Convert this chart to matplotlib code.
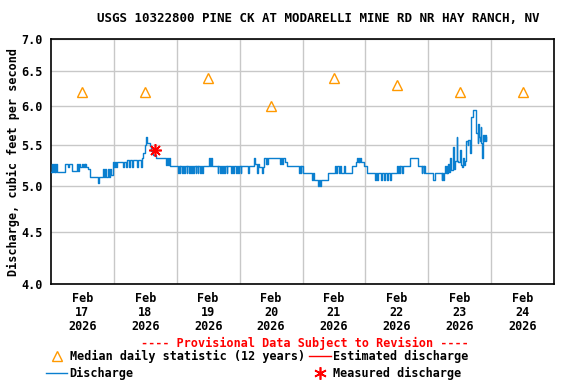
import numpy as np
import matplotlib
matplotlib.use("Agg")
import matplotlib.pyplot as plt
from matplotlib.lines import Line2D

# hours since Feb 17 2026 00:00, value held until next point (15-min gage data)
q_hours = [
    0.0, 0.3, 0.5, 0.9, 1.2, 1.4, 1.7, 1.9, 2.2, 5.3, 6.5, 6.8, 7.9, 9.8, 10.2,
    10.5, 11.1, 11.8, 12.1, 12.5, 12.8, 13.1, 13.5, 14.3, 14.9, 18.0, 18.3, 20.0,
    20.3, 20.8, 21.1, 21.9, 22.2, 22.6, 23.0, 23.8, 24.2, 24.5, 24.8, 25.2, 27.4,
    27.7, 28.6, 28.9, 29.8, 30.1, 31.1, 31.4, 33.0, 33.3, 34.3, 34.6, 35.2, 35.7,
    36.1, 36.6, 37.6, 38.3, 39.0, 40.2, 44.0, 44.3, 44.6, 44.9, 45.3, 48.4, 48.7,
    49.1, 49.4, 50.0, 50.3, 50.9, 51.2, 51.8, 52.1, 52.6, 52.9, 53.5, 53.8, 54.3,
    54.6, 55.2, 55.5, 56.0, 56.3, 56.9, 57.2, 57.8, 58.1, 60.4, 60.7, 61.0, 61.3,
    63.6, 63.9, 64.4, 64.7, 65.3, 65.6, 66.1, 66.4, 67.0, 67.3, 68.8, 69.1, 69.6,
    69.9, 70.6, 70.9, 71.5, 71.8, 72.4, 72.7, 75.1, 75.4, 77.6, 77.9, 78.7, 79.1,
    79.4, 80.6, 81.0, 81.3, 81.9, 82.3, 82.6, 83.0, 87.6, 87.9, 88.3, 88.6, 89.5,
    90.2, 94.6, 94.9, 95.3, 95.6, 96.3, 99.5, 99.9, 100.2, 102.0, 102.3, 102.6,
    103.0, 105.8, 108.4, 108.8, 109.2, 109.8, 110.3, 110.6, 111.9, 112.2, 114.9,
    116.5, 116.8, 117.1, 117.4, 117.7, 118.0, 118.3, 119.3, 120.5, 123.6, 124.0,
    124.6, 125.0, 125.8, 126.2, 127.0, 127.4, 128.4, 128.7, 129.3, 129.7, 130.0,
    131.9, 132.3, 132.7, 133.1, 133.4, 133.8, 134.5, 137.0, 140.2, 141.5, 141.8,
    142.2, 142.5, 142.7, 145.9, 146.5, 149.1, 149.4, 149.8, 150.1, 150.4, 150.7,
    151.0, 151.3, 151.6, 151.9, 152.3, 152.6, 153.5, 153.8, 154.2, 154.8, 155.1,
    155.4, 156.1, 156.4, 156.7, 157.3, 157.6, 158.0, 158.6, 159.0, 159.3, 159.9,
    160.2, 160.5, 161.0, 162.2, 162.4, 162.8, 163.1, 163.4, 163.7, 164.0, 164.3,
    164.6, 165.0, 165.3, 165.6, 165.9, 166.2,
]
q_values = [
    5.17, 5.26, 5.17, 5.26, 5.17, 5.26, 5.17, 5.26, 5.17, 5.26, 5.22, 5.26, 5.18,
    5.26, 5.18, 5.26, 5.22, 5.26, 5.22, 5.26, 5.22, 5.26, 5.22, 5.20, 5.11, 5.04,
    5.11, 5.20, 5.11, 5.20, 5.11, 5.20, 5.11, 5.20, 5.13, 5.29, 5.22, 5.29, 5.22,
    5.29, 5.22, 5.29, 5.22, 5.31, 5.22, 5.31, 5.22, 5.31, 5.22, 5.31, 5.22, 5.33,
    5.39, 5.50, 5.59, 5.52, 5.48, 5.42, 5.37, 5.33, 5.25, 5.33, 5.25, 5.33, 5.24,
    5.16, 5.24, 5.16, 5.24, 5.16, 5.24, 5.16, 5.24, 5.16, 5.24, 5.16, 5.24, 5.16,
    5.24, 5.16, 5.24, 5.16, 5.24, 5.16, 5.24, 5.16, 5.24, 5.16, 5.24, 5.33, 5.24,
    5.33, 5.24, 5.16, 5.24, 5.16, 5.24, 5.16, 5.24, 5.16, 5.24, 5.16, 5.24, 5.16,
    5.24, 5.16, 5.24, 5.16, 5.24, 5.16, 5.24, 5.16, 5.24, 5.16, 5.24, 5.33, 5.26,
    5.15, 5.26, 5.23, 5.15, 5.23, 5.33, 5.26, 5.33, 5.26, 5.33, 5.26, 5.33, 5.26,
    5.33, 5.29, 5.24, 5.15, 5.24, 5.15, 5.24, 5.15, 5.07, 5.15, 5.07, 5.00, 5.07,
    5.00, 5.07, 5.15, 5.24, 5.15, 5.24, 5.15, 5.24, 5.15, 5.24, 5.15, 5.24, 5.28,
    5.33, 5.28, 5.33, 5.28, 5.33, 5.28, 5.24, 5.15, 5.07, 5.15, 5.07, 5.15, 5.07,
    5.15, 5.07, 5.15, 5.07, 5.15, 5.07, 5.15, 5.15, 5.24, 5.15, 5.24, 5.15, 5.24,
    5.15, 5.24, 5.33, 5.24, 5.16, 5.24, 5.16, 5.24, 5.16, 5.07, 5.16, 5.07, 5.16,
    5.07, 5.16, 5.24, 5.16, 5.24, 5.16, 5.26, 5.17, 5.33, 5.19, 5.47, 5.20, 5.30,
    5.60, 5.30, 5.29, 5.43, 5.25, 5.23, 5.33, 5.25, 5.30, 5.54, 5.50, 5.56, 5.40,
    5.60, 5.86, 5.95, 5.90, 5.65, 5.52, 5.77, 5.60, 5.55, 5.72, 5.52, 5.33, 5.62,
    5.55, 5.62, 5.55, 5.60,
]

# median daily statistic (12 years), plotted at noon of each day
median_hours = [12, 36, 60, 84, 108, 132, 156, 180]
median_values = [6.2, 6.2, 6.4, 6.0, 6.4, 6.3, 6.2, 6.2]

# field measurement
meas_hours = [39.7]
meas_values = [5.43]

day_labels = ["Feb\n17\n2026", "Feb\n18\n2026", "Feb\n19\n2026", "Feb\n20\n2026",
              "Feb\n21\n2026", "Feb\n22\n2026", "Feb\n23\n2026", "Feb\n24\n2026"]
y_ticks = [4.0, 4.5, 5.0, 5.5, 6.0, 6.5, 7.0]

blue = "#0a7fcf"
orange = "#ff9900"
red = "#ff0000"
mono = "DejaVu Sans Mono"

fig = plt.figure(figsize=(5.76, 3.84), dpi=100)
ax = fig.add_axes([51 / 576, 100 / 384, 503 / 576, 245 / 384])

ax.step(q_hours, q_values, where="post", color=blue, lw=1.0, zorder=3)
ax.plot(median_hours, median_values, ls="none", marker="^", ms=7, mfc="none",
        mec=orange, mew=1.0, zorder=4)
ax.plot(meas_hours, meas_values, ls="none", marker=(8, 2, 0), ms=9, mec=red,
        mew=1.2, zorder=5)

ax.set_yscale("log")
ax.set_ylim(4.0, 7.0)
ax.set_xlim(0, 192)
ax.set_yticks(y_ticks)
ax.set_yticklabels(["%.1f" % v for v in y_ticks])
ax.yaxis.set_minor_locator(matplotlib.ticker.NullLocator())
ax.set_xticks(median_hours)
ax.set_xticklabels(day_labels, linespacing=1.1)
ax.set_xticks(np.arange(24, 192, 24), minor=True)
ax.grid(True, which="minor", axis="x", color="#c8c8c8", lw=1.0)
ax.grid(True, which="major", axis="y", color="#c8c8c8", lw=1.0)
ax.tick_params(which="both", length=0, labelsize=8.5, pad=6)
for lab in ax.get_xticklabels() + ax.get_yticklabels():
    lab.set_fontfamily(mono)
    lab.set_fontweight("bold")
for s in ax.spines.values():
    s.set_linewidth(1.2)

ax.set_ylabel("Discharge, cubic feet per second", family=mono, weight="bold",
              fontsize=8.5, labelpad=1)
fig.text(318 / 576, 1 - 19 / 384, "USGS 10322800 PINE CK AT MODARELLI MINE RD NR HAY RANCH, NV",
         ha="center", va="center", family=mono, weight="bold", fontsize=9)
fig.text(305 / 576, 1 - 343 / 384, "---- Provisional Data Subject to Revision ----",
         ha="center", va="center", family=mono, weight="bold", fontsize=8.5, color=red)

handles = [
    Line2D([], [], ls="none", marker="^", ms=7, mfc="none", mec=orange, mew=1.0),
    Line2D([], [], color=blue, lw=1.0),
    Line2D([], [], color=red, lw=1.0),
    Line2D([], [], ls="none", marker=(6, 2, 0), ms=9, mec=red, mew=1.2),
]
labels = ["Median daily statistic (12 years)", "Discharge",
          "Estimated discharge", "Measured discharge"]
fig.legend(handles, labels, ncol=2, loc="upper left",
           bbox_to_anchor=(46 / 576, 1 - 350 / 384), frameon=False,
           borderpad=0, borderaxespad=0, handlelength=1.8, handletextpad=0.2,
           columnspacing=0.4, labelspacing=0.35,
           prop={"family": mono, "weight": "bold", "size": 8.5})

fig.savefig("out.png", dpi=100)
